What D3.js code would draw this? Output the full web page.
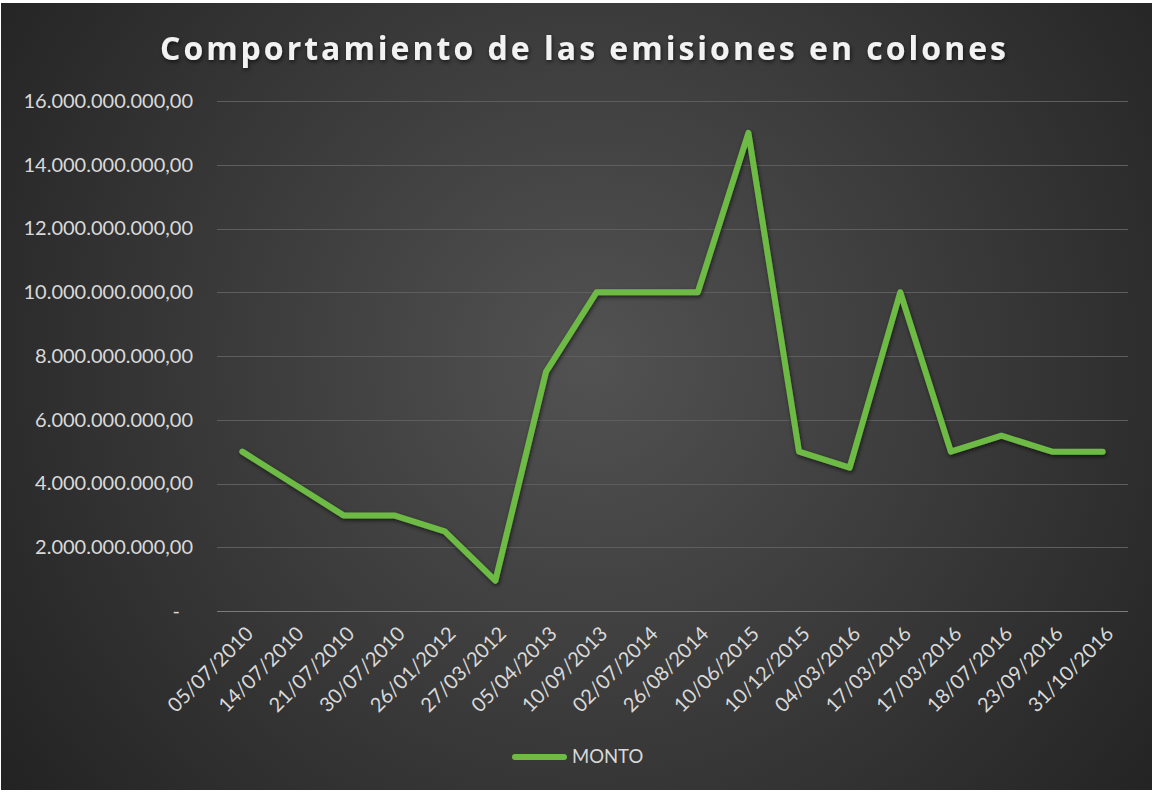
<!DOCTYPE html>
<html>
<head>
<meta charset="utf-8">
<script src="https://cdn.jsdelivr.net/npm/d3@7"></script>
<style>
  body { margin: 0; background: #fff; }
  svg { display: block; }
</style>
</head>
<body>
<div id="grafica"></div>
<script>
// data
var fechas = ["05/07/2010", "14/07/2010", "21/07/2010", "30/07/2010", "26/01/2012", "27/03/2012",
  "05/04/2013", "10/09/2013", "02/07/2014", "26/08/2014", "10/06/2015", "10/12/2015",
  "04/03/2016", "17/03/2016", "17/03/2016", "18/07/2016", "23/09/2016", "31/10/2016"];
var monto = [5000000000, 4000000000, 3000000000, 3000000000, 2500000000, 950000000,
  7500000000, 10000000000, 10000000000, 10000000000, 15000000000, 5000000000,
  4500000000, 10000000000, 5000000000, 5500000000, 5000000000, 5000000000];
var yTicks = [0, 2e9, 4e9, 6e9, 8e9, 10e9, 12e9, 14e9, 16e9];
var titulo = "Comportamiento de las emisiones en colones";
var serie = "MONTO";

var W = 1154, H = 794;
var margin = {top: 101, right: 26, bottom: 183, left: 217},
    width = W - margin.left - margin.right,
    height = H - margin.top - margin.bottom;

var locale = d3.formatLocale({decimal: ",", thousands: ".", grouping: [3], currency: ["", ""]});
var fmt = locale.format(",.2f");

var svg = d3.select("#grafica").append("svg")
    .attr("width", W)
    .attr("height", H);

// background
var defs = svg.append("defs");
var grad = defs.append("radialGradient")
    .attr("id", "bg")
    .attr("gradientUnits", "userSpaceOnUse")
    .attr("cx", 590).attr("cy", 360).attr("r", 720);
grad.append("stop").attr("offset", "0%").attr("stop-color", "#525252");
grad.append("stop").attr("offset", "100%").attr("stop-color", "#232323");

var shadow = defs.append("filter").attr("id", "sombra")
    .attr("x", "-10%").attr("y", "-10%").attr("width", "120%").attr("height", "130%");
shadow.append("feDropShadow").attr("dx", 1).attr("dy", 2).attr("stdDeviation", 2)
    .attr("flood-color", "#000").attr("flood-opacity", 0.6);

svg.append("rect")
    .attr("x", 1).attr("y", 3)
    .attr("width", W - 3).attr("height", H - 7)
    .attr("fill", "url(#bg)");

// title
svg.append("text")
    .attr("x", 583)
    .attr("y", 60)
    .attr("text-anchor", "middle")
    .attr("textLength", 846)
    .attr("lengthAdjust", "spacing")
    .style("font-family", "'Open Sans', Lato, sans-serif")
    .style("font-weight", "bold")
    .style("font-size", "32px")
    .style("fill", "#f2f2f2")
    .attr("filter", "url(#sombra)")
    .text(titulo);

var g = svg.append("g")
    .attr("transform", "translate(" + margin.left + "," + margin.top + ")");

var x = d3.scaleBand()
    .domain(d3.range(fechas.length))
    .range([0, width]);

var y = d3.scaleLinear()
    .domain([0, 16e9])
    .range([height, 0]);

// gridlines
g.append("g")
    .selectAll("line")
    .data(yTicks)
    .enter().append("line")
    .attr("x1", 0).attr("x2", width)
    .attr("y1", function(d) { return Math.round(y(d)) + 0.5; })
    .attr("y2", function(d) { return Math.round(y(d)) + 0.5; })
    .attr("stroke", function(d) { return d === 0 ? "#7a7a7a" : "#5e5e5e"; })
    .attr("stroke-width", 1);

// y axis
var yAxis = g.append("g")
    .call(d3.axisLeft(y).tickValues(yTicks).tickSize(0).tickPadding(24)
      .tickFormat(function(d) { return d === 0 ? "-" : fmt(d); }));
yAxis.select(".domain").remove();
yAxis.selectAll("text")
    .style("font-family", "Lato, 'Open Sans', sans-serif")
    .style("font-size", "20px")
    .style("fill", "#d9d9d9")
    .attr("dx", function(d) { return d === 0 ? "-13" : "0"; });

// x axis
var xAxis = g.append("g")
    .attr("transform", "translate(0," + height + ")")
    .call(d3.axisBottom(x).tickSize(0).tickFormat(function(i) { return fechas[i]; }));
xAxis.select(".domain").remove();
xAxis.selectAll("text")
    .style("font-family", "Lato, 'Open Sans', sans-serif")
    .style("font-size", "20px")
    .style("fill", "#d9d9d9")
    .attr("text-anchor", "end")
    .attr("dy", "0")
    .attr("transform", "translate(10,22) rotate(-45)");

// line
var linea = d3.line()
    .x(function(d, i) { return x(i) + x.bandwidth() / 2; })
    .y(function(d) { return y(d); });

g.append("path")
    .datum(monto)
    .attr("fill", "none")
    .attr("stroke", "#6dbb45")
    .attr("stroke-width", 6)
    .attr("stroke-linejoin", "round")
    .attr("stroke-linecap", "round")
    .attr("filter", "url(#sombra)")
    .attr("d", linea);

// legend
var leg = svg.append("g").attr("transform", "translate(513,757)");
leg.append("line")
    .attr("x1", 2).attr("x2", 51)
    .attr("y1", 0).attr("y2", 0)
    .attr("stroke", "#6dbb45")
    .attr("stroke-width", 6)
    .attr("stroke-linecap", "round");
leg.append("text")
    .attr("x", 59)
    .attr("y", 0)
    .attr("dy", "0.35em")
    .style("font-family", "Lato, 'Open Sans', sans-serif")
    .style("font-size", "18.5px")
    .style("fill", "#d9d9d9")
    .text(serie);
</script>
</body>
</html>
